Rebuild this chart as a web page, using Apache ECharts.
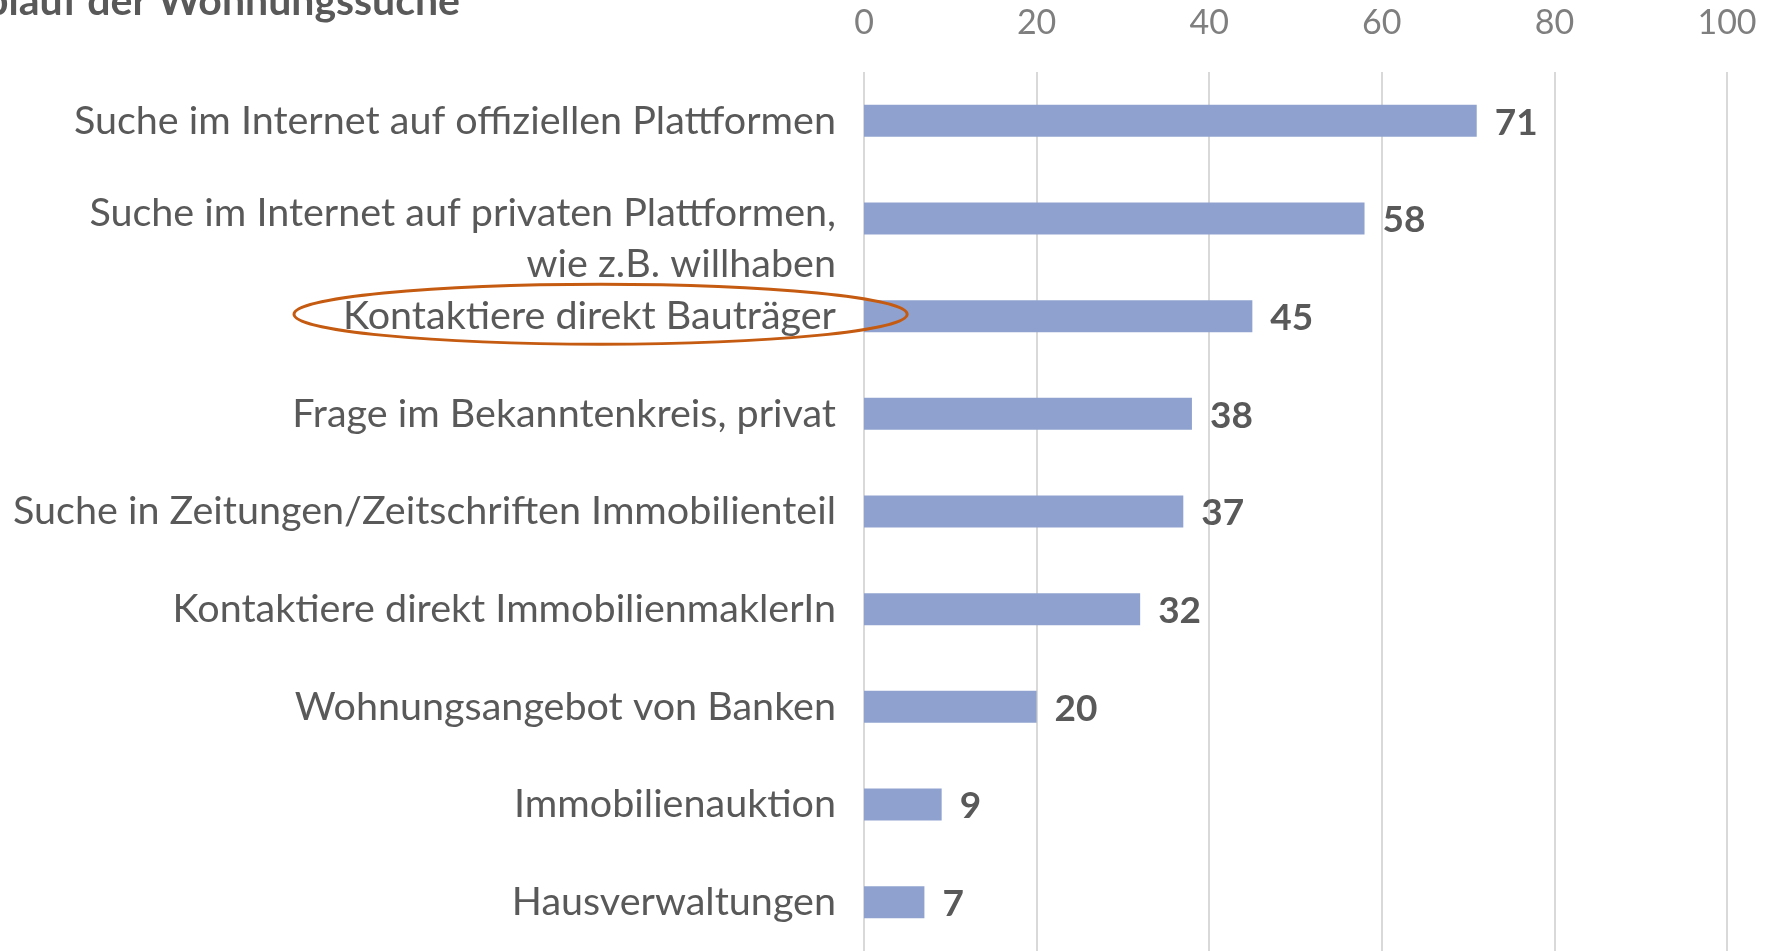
<!DOCTYPE html>
<html><head><meta charset="utf-8">
<script src="https://cdn.jsdelivr.net/npm/echarts@6/dist/echarts.min.js"></script>
<style>html,body{margin:0;padding:0;background:#fff}#c{width:1771px;height:951px}</style>
</head><body><div id="c"></div>
<script>
var titleText = 'Ablauf der Wohnungssuche';
var categories = [
  'Suche im Internet auf offiziellen Plattformen',
  'Suche im Internet auf privaten Plattformen,\nwie z.B. willhaben',
  'Kontaktiere direkt Bauträger',
  'Frage im Bekanntenkreis, privat',
  'Suche in Zeitungen/Zeitschriften Immobilienteil',
  'Kontaktiere direkt ImmobilienmaklerIn',
  'Wohnungsangebot von Banken',
  'Immobilienauktion',
  'Hausverwaltungen'
];
var values = [71, 58, 45, 38, 37, 32, 20, 9, 7];
var axisTicks = [0, 20, 40, 60, 80, 100];
var highlighted = 'Kontaktiere direkt Bauträger';

var FONT = 'Lato';
var LABEL_SIZE = 39.5;
var chart = echarts.init(document.getElementById('c'), null, {renderer: 'canvas'});
chart.setOption({
  animation: false,
  backgroundColor: '#ffffff',
  grid: {left: 864, right: 44, top: 72, height: 882, containLabel: false},
  xAxis: {
    type: 'value', position: 'top',
    min: axisTicks[0], max: axisTicks[axisTicks.length - 1], interval: 20,
    axisLine: {show: false}, axisTick: {show: false},
    axisLabel: {color: '#7f7f7f', fontFamily: FONT, fontSize: 34, margin: 32},
    splitLine: {show: true, lineStyle: {color: '#d9d9d9', width: 2}}
  },
  yAxis: {
    type: 'category', inverse: true, data: categories,
    axisLine: {show: false}, axisTick: {show: false},
    axisLabel: {
      color: '#595959', fontFamily: FONT, fontSize: LABEL_SIZE, margin: 28, align: 'right',
      formatter: function (v) {
        if (v.indexOf('\n') < 0) return v;
        return '{sp| }\n' + v.split('\n').map(function (s) { return '{ln|' + s + '}'; }).join('\n');
      },
      rich: {
        sp: {fontSize: 10, lineHeight: 40, height: 40},
        ln: {fontSize: LABEL_SIZE, fontFamily: FONT, color: '#595959', lineHeight: 51}
      }
    }
  },
  series: [{
    type: 'bar', data: values, barWidth: 32,
    itemStyle: {color: '#8fa2cf'},
    label: {show: true, position: 'right', distance: 18, offset: [0, 2], color: '#595959',
      fontFamily: FONT, fontWeight: 'bold', fontSize: 37}
  }]
});

function addGraphics() {
  var cy = chart.convertToPixel({yAxisIndex: 0}, highlighted);
  var xr = chart.convertToPixel({xAxisIndex: 0}, 5);
  var xl = 294;
  chart.setOption({
    graphic: [
      {type: 'text', x: 460, y: 2, style: {text: titleText, align: 'right', verticalAlign: 'middle',
        fill: '#595959', font: 'bold 41px ' + FONT}},
      {type: 'ellipse', shape: {cx: (xl + xr) / 2, cy: cy - 2, rx: (xr - xl) / 2, ry: 30},
        style: {fill: 'none', stroke: '#c55a11', lineWidth: 3}, z: 100}
    ]
  });
}
addGraphics();
</script></body></html>
